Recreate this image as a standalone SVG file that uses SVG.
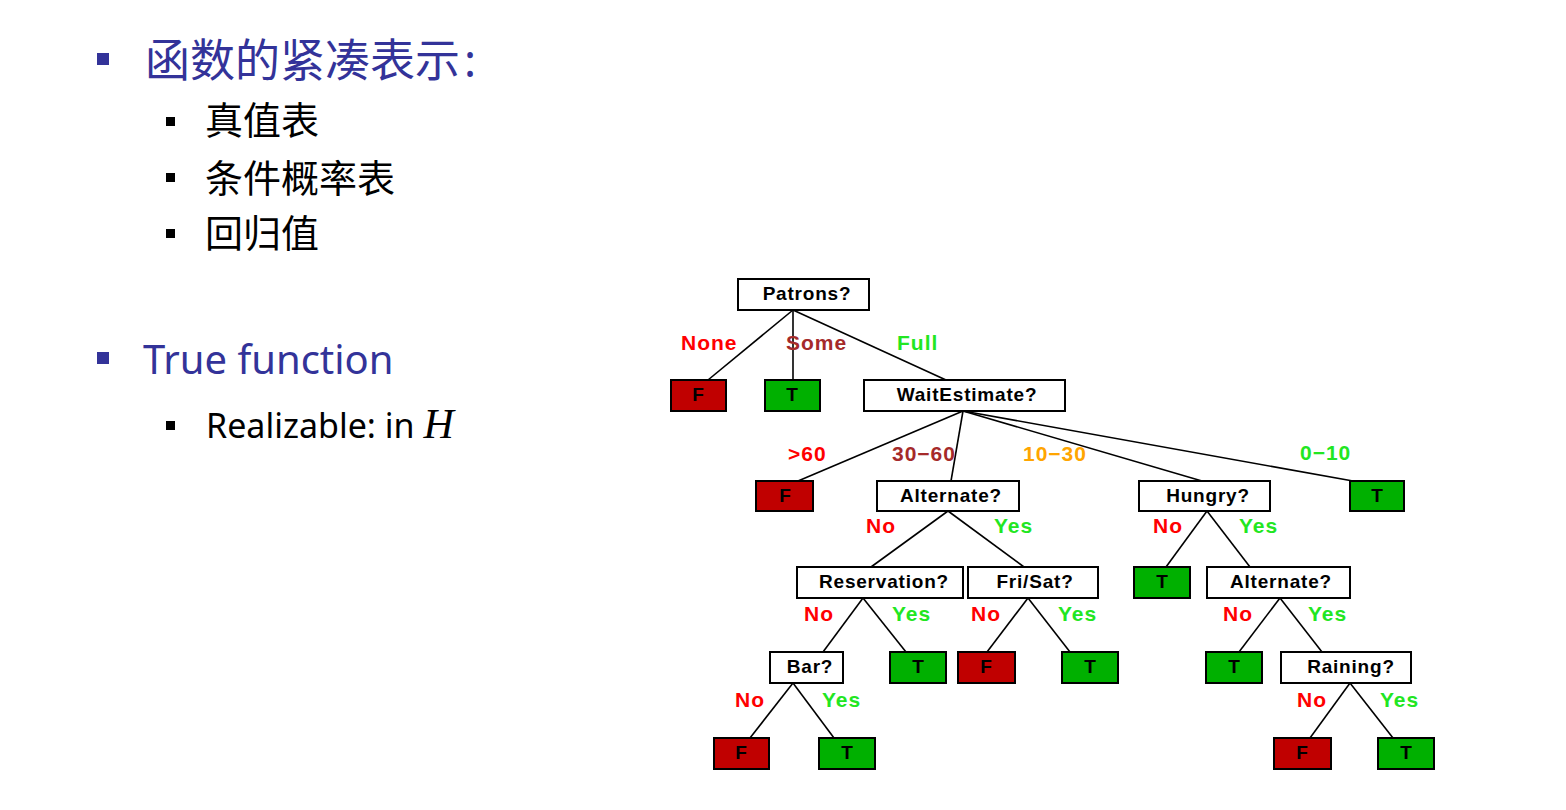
<svg xmlns="http://www.w3.org/2000/svg" width="1566" height="810" viewBox="0 0 1566 810">
  <style>
    .h1 { font-family: "Noto Sans", "Noto Sans CJK SC", sans-serif; fill: #333399; }
    .h2 { font-family: "Noto Sans", "Noto Sans CJK SC", sans-serif; fill: #000; }
    .q { fill: #fff; stroke: #000; stroke-width: 2; }
    .f { fill: #c00000; stroke: #000; stroke-width: 2; }
    .t { fill: #00b000; stroke: #000; stroke-width: 2; }
    .nt { font-family: "Liberation Sans", Arial, sans-serif; font-weight: bold; font-size: 19px; letter-spacing: 0.8px; text-anchor: middle; fill: #000; }
    .lt { font-family: "Liberation Sans", Arial, sans-serif; font-weight: bold; font-size: 19px; text-anchor: middle; fill: #000; }
    .el { font-family: "Liberation Sans", Arial, sans-serif; font-weight: bold; font-size: 21px; letter-spacing: 1px; }
    .red { fill: #ff0000; }
    .brn { fill: #a52a2a; }
    .grn { fill: #22e622; }
    .org { fill: #ffa500; }
    .edge { stroke: #000; stroke-width: 1.6; fill: none; }
  </style>

  <!-- bullet list -->
  <g id="bullets">
    <rect x="97" y="53" width="12" height="12" fill="#333399"/>
    <text class="h1" x="145" y="77" font-size="45">函数的紧凑表示<tspan dx="4">:</tspan></text>
    <rect x="166" y="117" width="9" height="9" fill="#000"/>
    <text class="h2" x="205" y="134" font-size="38">真值表</text>
    <rect x="166" y="173" width="9" height="9" fill="#000"/>
    <text class="h2" x="205" y="192" font-size="38">条件概率表</text>
    <rect x="166" y="229" width="9" height="9" fill="#000"/>
    <text class="h2" x="205" y="247" font-size="38">回归值</text>
    <rect x="97" y="352" width="12" height="12" fill="#333399"/>
    <text class="h1" x="143" y="374" font-size="40">True function</text>
    <rect x="166" y="421" width="9" height="9" fill="#000"/>
    <text class="h2" x="206" y="438" font-size="34">Realizable: in <tspan font-family="'Liberation Serif', serif" font-style="italic" font-size="42">H</tspan></text>
  </g>

  <!-- connectors -->
  <g id="edges" class="edge">
    <line x1="793" y1="310" x2="708" y2="380"/>
    <line x1="793" y1="310" x2="793" y2="380"/>
    <line x1="793" y1="310" x2="946" y2="380"/>
    <line x1="963" y1="411" x2="798" y2="481"/>
    <line x1="963" y1="411" x2="951" y2="481"/>
    <line x1="963" y1="411" x2="1202" y2="481"/>
    <line x1="963" y1="411" x2="1353" y2="481"/>
    <line x1="948" y1="511" x2="871" y2="567"/>
    <line x1="948" y1="511" x2="1024" y2="567"/>
    <line x1="1207" y1="511" x2="1166" y2="567"/>
    <line x1="1207" y1="511" x2="1250" y2="567"/>
    <line x1="863" y1="598" x2="823" y2="652"/>
    <line x1="863" y1="598" x2="906" y2="652"/>
    <line x1="1028" y1="598" x2="987" y2="652"/>
    <line x1="1028" y1="598" x2="1070" y2="652"/>
    <line x1="1280" y1="598" x2="1239" y2="652"/>
    <line x1="1280" y1="598" x2="1322" y2="652"/>
    <line x1="793" y1="683" x2="750" y2="738"/>
    <line x1="793" y1="683" x2="834" y2="738"/>
    <line x1="1350" y1="683" x2="1310" y2="738"/>
    <line x1="1350" y1="683" x2="1393" y2="738"/>
  </g>

  <!-- edge labels -->
  <g id="edge-labels" class="el">
    <text class="red" x="681" y="350">None</text>
    <text class="brn" x="786" y="350">Some</text>
    <text class="grn" x="897" y="350">Full</text>
    <text class="red" x="788" y="461">&gt;60</text>
    <text class="brn" x="892" y="461">30−60</text>
    <text class="org" x="1023" y="461">10−30</text>
    <text class="grn" x="1300" y="460">0−10</text>
    <text class="red" x="866" y="533">No</text>
    <text class="grn" x="994" y="533">Yes</text>
    <text class="red" x="1153" y="533">No</text>
    <text class="grn" x="1239" y="533">Yes</text>
    <text class="red" x="804" y="621">No</text>
    <text class="grn" x="892" y="621">Yes</text>
    <text class="red" x="971" y="621">No</text>
    <text class="grn" x="1058" y="621">Yes</text>
    <text class="red" x="1223" y="621">No</text>
    <text class="grn" x="1308" y="621">Yes</text>
    <text class="red" x="735" y="707">No</text>
    <text class="grn" x="822" y="707">Yes</text>
    <text class="red" x="1297" y="707">No</text>
    <text class="grn" x="1380" y="707">Yes</text>
  </g>

  <!-- decision nodes -->
  <g id="patrons"><rect class="q" x="738" y="279" width="131" height="31"/><text class="nt" x="807" y="300">Patrons?</text></g>
  <g id="wait-estimate"><rect class="q" x="864" y="380" width="201" height="31"/><text class="nt" x="967" y="401">WaitEstimate?</text></g>
  <g id="alternate-1"><rect class="q" x="877" y="481" width="142" height="30"/><text class="nt" x="951" y="502">Alternate?</text></g>
  <g id="hungry"><rect class="q" x="1139" y="481" width="131" height="30"/><text class="nt" x="1208" y="502">Hungry?</text></g>
  <g id="reservation"><rect class="q" x="797" y="567" width="166" height="31"/><text class="nt" x="884" y="588">Reservation?</text></g>
  <g id="fri-sat"><rect class="q" x="968" y="567" width="130" height="31"/><text class="nt" x="1035" y="588">Fri/Sat?</text></g>
  <g id="alternate-2"><rect class="q" x="1207" y="567" width="143" height="31"/><text class="nt" x="1281" y="588">Alternate?</text></g>
  <g id="bar"><rect class="q" x="770" y="652" width="73" height="31"/><text class="nt" x="810" y="673">Bar?</text></g>
  <g id="raining"><rect class="q" x="1281" y="652" width="130" height="31"/><text class="nt" x="1351" y="673">Raining?</text></g>

  <!-- leaves -->
  <g id="leaf-none"><rect class="f" x="671" y="380" width="55" height="31"/><text class="lt" x="698" y="401">F</text></g>
  <g id="leaf-some"><rect class="t" x="765" y="380" width="55" height="31"/><text class="lt" x="792" y="401">T</text></g>
  <g id="leaf-gt60"><rect class="f" x="756" y="481" width="57" height="30"/><text class="lt" x="785" y="502">F</text></g>
  <g id="leaf-0-10"><rect class="t" x="1350" y="481" width="54" height="30"/><text class="lt" x="1377" y="502">T</text></g>
  <g id="leaf-hungry-no"><rect class="t" x="1134" y="567" width="56" height="31"/><text class="lt" x="1162" y="588">T</text></g>
  <g id="leaf-reservation-yes"><rect class="t" x="890" y="652" width="56" height="31"/><text class="lt" x="918" y="673">T</text></g>
  <g id="leaf-frisat-no"><rect class="f" x="958" y="652" width="57" height="31"/><text class="lt" x="986" y="673">F</text></g>
  <g id="leaf-frisat-yes"><rect class="t" x="1062" y="652" width="56" height="31"/><text class="lt" x="1090" y="673">T</text></g>
  <g id="leaf-alternate2-no"><rect class="t" x="1206" y="652" width="56" height="31"/><text class="lt" x="1234" y="673">T</text></g>
  <g id="leaf-bar-no"><rect class="f" x="714" y="738" width="55" height="31"/><text class="lt" x="741" y="759">F</text></g>
  <g id="leaf-bar-yes"><rect class="t" x="819" y="738" width="56" height="31"/><text class="lt" x="847" y="759">T</text></g>
  <g id="leaf-raining-no"><rect class="f" x="1274" y="738" width="57" height="31"/><text class="lt" x="1302" y="759">F</text></g>
  <g id="leaf-raining-yes"><rect class="t" x="1378" y="738" width="56" height="31"/><text class="lt" x="1406" y="759">T</text></g>
</svg>
